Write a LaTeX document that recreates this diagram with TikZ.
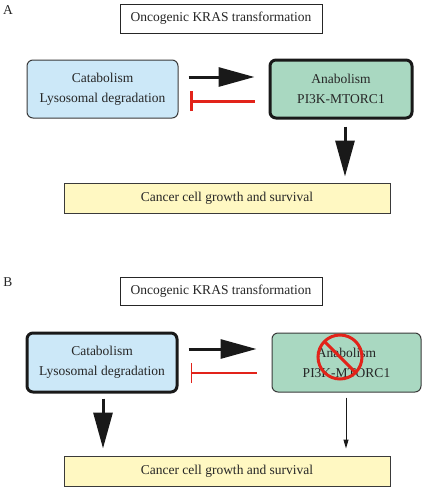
\documentclass[tikz,border=0pt]{standalone}
\usepackage{fontspec}
\setmainfont{Liberation Serif}
\usetikzlibrary{arrows.meta}
\definecolor{catblue}{HTML}{CCE8F8}
\definecolor{anagreen}{HTML}{A9D8C1}
\definecolor{canyellow}{HTML}{FFF8C2}
\definecolor{inhred}{HTML}{E2231A}
\definecolor{edgegray}{HTML}{3A3A3A}
\begin{document}
\begin{tikzpicture}[x=1pt,y=-1pt,
  every node/.style={font=\fontsize{13.5}{20}\selectfont, text=black!85, align=center, inner sep=0pt},
  krasbox/.style={draw=black!85, line width=0.9pt, fill=white},
  catbox/.style={draw=edgegray, line width=1pt, fill=catblue, rounded corners=6pt},
  anabox/.style={draw=edgegray, line width=1pt, fill=anagreen, rounded corners=6pt},
  thickedge/.style={draw=black!90, line width=3pt},
  canbox/.style={draw=edgegray, line width=1pt, fill=canyellow},
  bigarrow/.style={color=black!90, line width=3pt, -{Triangle[length=36pt,width=19pt]}},
  smallarrow/.style={color=black!90, line width=1pt, -{Triangle[length=9pt,width=5pt]}},
  inhthick/.style={color=inhred, line width=3pt, -{Bar[width=20pt]}},
  inhthin/.style={color=inhred, line width=1.2pt, -{Bar[width=20pt]}},
  panel/.style={font=\fontsize{13.5}{16}\selectfont}
]
\useasboundingbox (0,0) rectangle (425,490);
% Panel A
\node[panel] (labA) at (8,10) {A};
\node[krasbox, minimum width=202pt, minimum height=29pt] (krasA) at (221,18.5) {Oncogenic KRAS transformation};
\node[catbox, minimum width=151pt, minimum height=58pt] (catA) at (102.5,89) {Catabolism\\Lysosomal degradation};
\node[anabox, thickedge, minimum width=142pt, minimum height=58pt] (anaA) at (341,89) {Anabolism\\PI3K-MTORC1};
\node[canbox, minimum width=326pt, minimum height=30pt] (canA) at (227,198) {Cancer cell growth and survival};
\draw[bigarrow, shorten <=10pt, shorten >=14pt] ([yshift=12pt]catA.east) -- ([yshift=12pt]anaA.west);
\draw[inhthick, shorten <=14pt, shorten >=11pt] ([yshift=-12pt]anaA.west) -- ([yshift=-12pt]catA.east);
\draw[bigarrow, shorten <=7pt, shorten >=6pt] ([xshift=4pt]anaA.south) -- ([xshift=4pt]anaA.south |- canA.north);
% Panel B
\node[panel] (labB) at (8,282) {B};
\node[krasbox, minimum width=202pt, minimum height=28pt] (krasB) at (221,291) {Oncogenic KRAS transformation};
\node[catbox, thickedge, minimum width=150pt, minimum height=59pt] (catB) at (102,362.5) {Catabolism\\Lysosomal degradation};
\node[anabox, minimum width=149pt, minimum height=59pt] (anaB) at (346.5,362.5) {Anabolism\\PI3K-MTORC1};
\node[canbox, minimum width=326pt, minimum height=30pt] (canB) at (227,471) {Cancer cell growth and survival};
\draw[bigarrow, shorten <=10pt, shorten >=15pt] ([yshift=13.5pt]catB.east) -- ([yshift=13.5pt]anaB.west);
\draw[inhthin, shorten <=15pt, shorten >=12pt] ([yshift=-10.5pt]anaB.west) -- ([yshift=-10.5pt]catB.east);
\draw[bigarrow, shorten <=5pt, shorten >=7pt] ([xshift=1pt]catB.south) -- ([xshift=1pt]catB.south |- canB.north);
\draw[smallarrow, shorten <=5pt, shorten >=7pt] ([xshift=-0.5pt]anaB.south) -- ([xshift=-0.5pt]anaB.south |- canB.north);
% prohibition sign
\coordinate (noC) at (340,357);
\draw[inhred, line width=3pt] (noC) circle[radius=22pt];
\draw[inhred, line width=3pt] (324.4,341.4) -- (355.6,372.6);
\end{tikzpicture}
\end{document}
